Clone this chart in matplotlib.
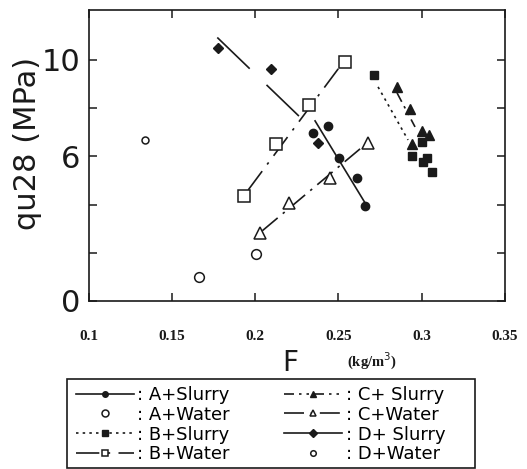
import matplotlib
matplotlib.use("Agg")
import matplotlib.pyplot as plt
from matplotlib.lines import Line2D
from matplotlib.patches import Rectangle

# F (kg/m3) and qu28 (MPa)
a_slurry_x = [0.2438, 0.2348, 0.2504, 0.2612, 0.2660]
a_slurry_y = [7.26, 6.97, 5.93, 5.10, 3.94]
a_water_x = [0.2005, 0.1663]
a_water_y = [1.95, 1.00]
b_slurry_x = [0.2714, 0.3002, 0.2942, 0.3008, 0.3030, 0.3062]
b_slurry_y = [9.38, 6.60, 6.02, 5.77, 5.95, 5.35]
b_water_x = [0.2540, 0.2324, 0.2124, 0.1933]
b_water_y = [9.92, 8.13, 6.51, 4.36]
c_slurry_x = [0.2852, 0.2930, 0.3002, 0.3044, 0.2942]
c_slurry_y = [8.88, 7.97, 7.05, 6.89, 6.51]
c_water_x = [0.2678, 0.2450, 0.2203, 0.2029]
c_water_y = [6.56, 5.10, 4.07, 2.82]
d_slurry_x = [0.1775, 0.2094, 0.2376]
d_slurry_y = [10.51, 9.61, 6.56]
d_water_x = [0.1340]
d_water_y = [6.68]

# fitted trend lines (end points)
a_fit_x, a_fit_y = [0.236, 0.266], [7.47, 4.07]
b_slurry_fit_x, b_slurry_fit_y = [0.2738, 0.2918], [8.88, 6.68]
b_water_fit_x, b_water_fit_y = [0.2499, 0.1959], [9.63, 4.61]
c_slurry_fit_x, c_slurry_fit_y = [0.2852, 0.2960], [8.63, 7.22]
c_water_fit_x, c_water_fit_y = [0.2630, 0.2041], [6.31, 2.90]
d_fit_x, d_fit_y = [0.1773, 0.2269], [10.93, 7.63]

x_ticks = [0.1, 0.15, 0.2, 0.25, 0.3, 0.35]
x_tick_labels = ['0.1', '0.15', '0.2', '0.25', '0.3', '0.35']
y_ticks = [0, 2, 4, 6, 8, 10]
y_tick_labels = ['0', '', '', '6', '', '10']

k = '#1a1a1a'
lw = 1.2
ls_a = '-'
ls_bs = (0, (1.5, 2.5))
ls_bw = (0, (14, 5, 1.5, 5))
ls_cs = (0, (6, 3, 1.5, 3, 1.5, 3))
ls_cw = (0, (12, 4, 1.5, 4))
ls_d = (0, (27, 14))

fig = plt.figure(figsize=(5.27, 4.69), dpi=100)
ax = fig.add_axes([88.5 / 527, 1 - 301 / 469, (505 - 88.5) / 527, 291 / 469])

ax.plot(a_fit_x, a_fit_y, color=k, lw=lw, ls=ls_a)
ax.plot(b_slurry_fit_x, b_slurry_fit_y, color=k, lw=lw, ls=ls_bs)
ax.plot(b_water_fit_x, b_water_fit_y, color=k, lw=lw, ls=ls_bw)
ax.plot(c_slurry_fit_x, c_slurry_fit_y, color=k, lw=lw, ls=ls_cs)
ax.plot(c_water_fit_x, c_water_fit_y, color=k, lw=lw, ls=ls_cw)
ax.plot(d_fit_x, d_fit_y, color=k, lw=lw, ls=ls_d)

ax.plot(a_slurry_x, a_slurry_y, 'o', ms=6, color=k, ls='none')
ax.plot(a_water_x, a_water_y, 'o', ms=7, mfc='white', mec=k, mew=1.1, ls='none')
ax.plot(b_slurry_x, b_slurry_y, 's', ms=6, color=k, ls='none')
ax.plot(b_water_x, b_water_y, 's', ms=8, mfc='white', mec=k, mew=1.1, ls='none')
ax.plot(c_slurry_x, c_slurry_y, '^', ms=7, color=k, ls='none')
ax.plot(c_water_x, c_water_y, '^', ms=8, mfc='white', mec=k, mew=1.1, ls='none')
ax.plot(d_slurry_x, d_slurry_y, 'D', ms=5.5, color=k, ls='none')
ax.plot(d_water_x, d_water_y, 'o', ms=5, mfc='white', mec=k, mew=1.1, ls='none')

ax.set_xlim(0.1, 0.35)
ax.set_ylim(0, 12.07)
ax.set_xticks(x_ticks)
ax.set_xticklabels(x_tick_labels, family='Liberation Serif', fontsize=11, fontweight='bold')
ax.set_yticks(y_ticks)
ax.set_yticklabels(y_tick_labels, fontsize=22)
ax.tick_params(direction='in', length=6, width=1.1, top=True, right=True, colors=k)
ax.tick_params(axis='x', pad=21)
ax.tick_params(axis='y', pad=6)
for s in ax.spines.values():
    s.set_linewidth(1.2)
    s.set_color(k)

fig.text(28 / 527, 1 - 143 / 469, 'qu28 (MPa)', rotation=90, fontsize=22,
         ha='center', va='center', color=k)
fig.text(290 / 527, 1 - 363 / 469, 'F', fontsize=20, ha='center', va='center', color=k)
fig.text(372 / 527, 1 - 361 / 469, '(kg/m$^3$)', family='Liberation Serif', fontsize=10.5,
         fontweight='bold', ha='center', va='center', color=k)

handles = [
    Line2D([], [], color=k, lw=lw, ls=ls_a, marker='o', ms=4),
    Line2D([], [], color=k, ls='none', marker='o', ms=5, mfc='white', mew=1.1),
    Line2D([], [], color=k, lw=lw, ls=ls_bs, marker='s', ms=5),
    Line2D([], [], color=k, lw=lw, ls=ls_bw, marker='s', ms=5, mfc='white', mew=1.1),
    Line2D([], [], color=k, lw=lw, ls=ls_cs, marker='^', ms=5),
    Line2D([], [], color=k, lw=lw, ls=ls_cw, marker='^', ms=5, mfc='white', mew=1.1),
    Line2D([], [], color=k, lw=lw, ls='-', marker='D', ms=4),
    Line2D([], [], color=k, ls='none', marker='o', ms=4, mfc='white', mew=1.1),
]
labels = [': A+Slurry', ': A+Water', ': B+Slurry', ': B+Water',
          ': C+ Slurry', ': C+Water', ': D+ Slurry', ': D+Water']

fig.legend(handles, labels, ncol=2, loc='upper left',
           bbox_to_anchor=(76 / 527, 1 - 386 / 469),
           fontsize=13, frameon=False,
           handlelength=3.2, handletextpad=0.2, labelspacing=0.1,
           borderpad=0, columnspacing=3.0, borderaxespad=0)

# legend box
fig.patches.append(Rectangle((67 / 527, 1 - 468 / 469), (475 - 67) / 527, (468 - 379) / 469,
                             transform=fig.transFigure, fill=False, edgecolor=k, lw=1.2))

fig.savefig('out.png', dpi=100)
